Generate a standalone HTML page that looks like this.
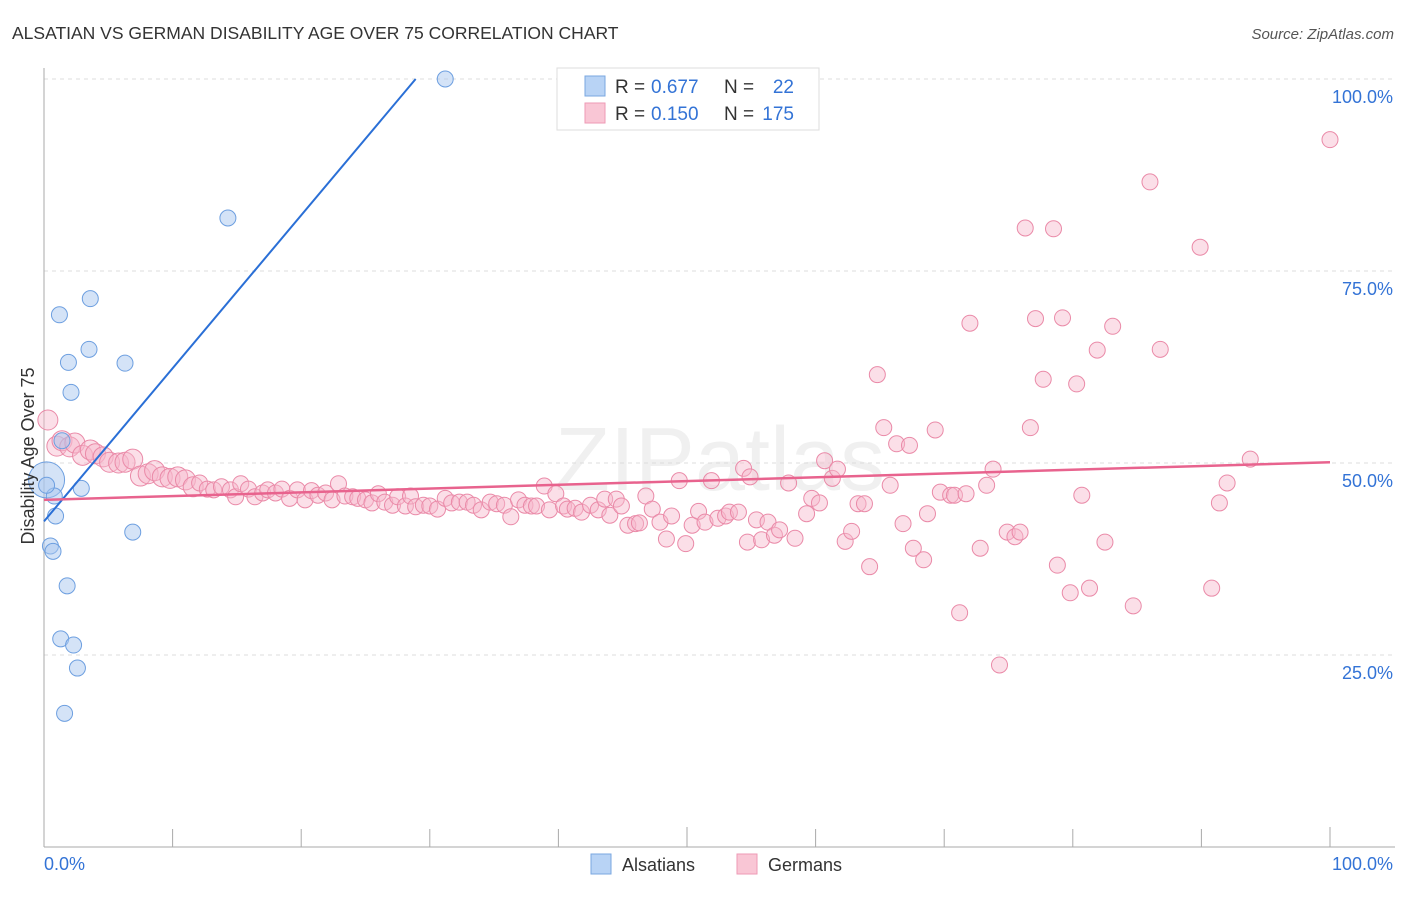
<!DOCTYPE html>
<html><head><meta charset="utf-8">
<style>
body{margin:0;background:#fff;font-family:"Liberation Sans",sans-serif;}
svg text{font-family:"Liberation Sans",sans-serif;}
</style></head>
<body>
<svg id="chart" width="1406" height="892" xmlns="http://www.w3.org/2000/svg">
<text x="12" y="39" font-size="17.5" fill="#333">ALSATIAN VS GERMAN DISABILITY AGE OVER 75 CORRELATION CHART</text>
<text x="1394" y="39" font-size="15" fill="#555" text-anchor="end" font-style="italic">Source: ZipAtlas.com</text>
<text x="720" y="490" font-size="90" fill="#000" fill-opacity="0.06" text-anchor="middle" font-family="Liberation Serif">ZIPatlas</text>
<g id="grid"></g>
<g id="axes"></g>
<g id="pts"></g>
<g id="lines"></g>
<text transform="translate(34,456) rotate(-90)" font-size="18" fill="#333" text-anchor="middle">Disability Age Over 75</text>
<g>
<rect x="557" y="68" width="262" height="62" fill="#fff" stroke="#ddd"/>
<rect x="585" y="76" width="20" height="20" fill="#b8d3f5" stroke="#7aa7e0"/>
<rect x="585" y="103" width="20" height="20" fill="#f9c6d5" stroke="#ee9ab5"/>
<text x="615" y="93" font-size="19" fill="#333">R =</text>
<text x="651" y="93" font-size="19" fill="#3373d6">0.677</text>
<text x="724" y="93" font-size="19" fill="#333">N =</text>
<text x="794" y="93" font-size="19" fill="#3373d6" text-anchor="end">22</text>
<text x="615" y="120" font-size="19" fill="#333">R =</text>
<text x="651" y="120" font-size="19" fill="#3373d6">0.150</text>
<text x="724" y="120" font-size="19" fill="#333">N =</text>
<text x="794" y="120" font-size="19" fill="#3373d6" text-anchor="end">175</text>
</g>
<g>
<rect x="591" y="854" width="20" height="20" fill="#b8d3f5" stroke="#7aa7e0"/>
<text x="622" y="871" font-size="18" fill="#333">Alsatians</text>
<rect x="737" y="854" width="20" height="20" fill="#f9c6d5" stroke="#ee9ab5"/>
<text x="768" y="871" font-size="18" fill="#333">Germans</text>
</g>
</svg>
<script>
const yTicks=[25,50,75,100];
const yTickLabels=["25.0%","50.0%","75.0%","100.0%"];
const xTicks=[0,10,20,30,40,50,60,70,80,90,100];
const blueX=[31.2,14.3,3.6,1.2,3.5,1.9,6.3,2.1,1.4,0.2,0.8,2.9,0.9,6.9,0.5,0.7,1.8,1.3,2.3,2.6,1.6,0.2];
const blueY=[100,81.9,71.4,69.3,64.8,63.1,63.0,59.2,52.9,47.8,45.7,46.7,43.1,41.0,39.2,38.5,34.0,27.1,26.3,23.3,17.4,47.1];
const blueR=[8,8,8,8,8,8,8,8,8,18,8,8,8,8,8,8,8,8,8,8,8,8];
const pinkX=[0.3,1.0,1.4,2.0,2.4,3.0,3.6,4.0,4.6,5.1,5.8,6.3,6.9,7.5,8.1,8.6,9.2,9.8,10.4,11.0,11.6,12.1,12.7,13.2,13.8,14.5,14.9,15.3,15.9,16.4,17.0,17.4,18.0,18.5,19.1,19.7,20.3,20.8,21.3,21.9,22.4,22.9,23.4,24.0,24.4,25.0,25.5,26.0,26.5,27.1,27.5,28.1,28.5,28.9,29.5,30.0,30.6,31.2,31.7,32.3,32.9,33.4,34.0,34.7,35.2,35.8,36.3,36.9,37.4,37.9,38.3,38.9,39.3,39.8,40.4,40.7,41.3,41.8,42.5,43.1,43.6,44.0,44.5,44.9,45.4,46.0,46.3,46.8,47.3,47.9,48.4,48.8,49.4,49.9,50.4,50.9,51.4,51.9,52.4,53.0,53.3,54.0,54.4,54.7,54.9,55.4,55.8,56.3,56.8,57.2,57.9,58.4,59.3,59.7,60.3,60.7,61.3,61.7,62.3,62.8,63.3,63.8,64.2,64.8,65.3,65.8,66.3,66.8,67.3,67.6,68.4,68.7,69.3,69.7,70.5,70.8,71.2,71.7,72.0,72.8,73.3,73.8,74.3,74.9,75.5,75.9,76.3,76.7,77.1,77.7,78.5,78.8,79.2,79.8,80.3,80.7,81.3,81.9,82.5,83.1,84.7,86.0,86.8,89.9,90.8,91.4,92.0,93.8,100];
const pinkY=[55.6,52.2,52.9,52.1,52.6,51.0,51.7,51.2,50.8,50.1,50.0,50.1,50.5,48.3,48.6,49.0,48.2,48.0,48.2,47.8,46.9,47.4,46.6,46.5,46.9,46.5,45.6,47.3,46.6,45.6,46.1,46.5,46.1,46.6,45.4,46.5,45.2,46.4,45.8,46.1,45.2,47.3,45.7,45.6,45.4,45.2,44.8,46.0,44.9,44.5,45.6,44.4,45.7,44.3,44.5,44.4,44.0,45.4,44.8,44.9,44.9,44.5,43.9,44.9,44.7,44.5,43.0,45.2,44.5,44.4,44.4,47.0,43.9,46.0,44.4,44.0,44.1,43.6,44.5,43.9,45.3,43.2,45.3,44.4,41.9,42.1,42.2,45.7,44.0,42.3,40.1,43.1,47.7,39.5,41.9,43.7,42.3,47.7,42.8,43.1,43.6,43.6,49.3,39.7,48.2,42.6,40.0,42.3,40.6,41.3,47.4,40.2,43.4,45.4,44.8,50.3,48.0,49.2,39.8,41.1,44.7,44.7,36.5,61.5,54.6,47.1,52.5,42.1,52.3,38.9,37.4,43.4,54.3,46.2,45.8,45.8,30.5,46.0,68.2,38.9,47.1,49.2,23.7,41.0,40.4,41.0,80.6,54.6,68.8,60.9,80.5,36.7,68.9,33.1,60.3,45.8,33.7,64.7,39.7,67.8,31.4,86.6,64.8,78.1,33.7,44.8,47.4,50.5,92.1];
const blueLine=[[0,42.4],[28.9,100]];
const pinkLine=[[0,45.2],[100,50.1]];
const NS="http://www.w3.org/2000/svg";
const X0=44,X1=1330,Y0=847,Y1=79;
function sx(v){return X0+(X1-X0)*v/100;}
function sy(v){return Y0-(Y0-Y1)*v/100;}
function mk(tag,attrs,parent){const e=document.createElementNS(NS,tag);for(const k in attrs)e.setAttribute(k,attrs[k]);parent.appendChild(e);return e;}
const grid=document.getElementById('grid'),axes=document.getElementById('axes'),pts=document.getElementById('pts'),lines=document.getElementById('lines');
yTicks.forEach((t,i)=>{
  const g=mk('line',{x1:X0,x2:1395,y1:sy(t),y2:sy(t),stroke:'#ddd','stroke-dasharray':'4,4'},grid);
  
  
  const tx=mk('text',{x:1393,y:sy(t)+24,'font-size':18,fill:'#3373d6','text-anchor':'end'},axes);
  tx.textContent=yTickLabels[i];
  
  
});
const ya=mk('line',{x1:X0,x2:X0,y1:68,y2:Y0,stroke:'#aaa'},axes);


const xa=mk('line',{x1:X0,x2:1395,y1:Y0,y2:Y0,stroke:'#aaa'},axes);


xTicks.forEach(t=>{
  const l=mk('line',{x1:sx(t),x2:sx(t),y1:Y0,y2:Y0-(t%50===0?20:18),stroke:'#aaa'},axes);
  
  
});
const xl0=mk('text',{x:44,y:870,'font-size':18,fill:'#3373d6'},axes);xl0.textContent='0.0%';


const xl1=mk('text',{x:1393,y:870,'font-size':18,fill:'#3373d6','text-anchor':'end'},axes);xl1.textContent='100.0%';


pinkX.forEach((v,i)=>{
  const r=v<12?10:8;
  const c=mk('circle',{cx:sx(v),cy:sy(pinkY[i]),r:r,fill:'#f7b8cb','fill-opacity':0.45,stroke:'#ea8aa8','stroke-width':1},pts);
  
  
});
blueX.forEach((v,i)=>{
  const c=mk('circle',{cx:sx(v),cy:sy(blueY[i]),r:blueR[i],fill:'#a9c8f0','fill-opacity':0.5,stroke:'#6d9fe0','stroke-width':1},pts);
  
  
});
const bl=mk('line',{x1:sx(blueLine[0][0]),y1:sy(blueLine[0][1]),x2:sx(blueLine[1][0]),y2:sy(blueLine[1][1]),stroke:'#2a6fd6','stroke-width':2},lines);


const pl=mk('line',{x1:sx(pinkLine[0][0]),y1:sy(pinkLine[0][1]),x2:sx(pinkLine[1][0]),y2:sy(pinkLine[1][1]),stroke:'#e8638e','stroke-width':2.5},lines);


</script>
</body></html>
